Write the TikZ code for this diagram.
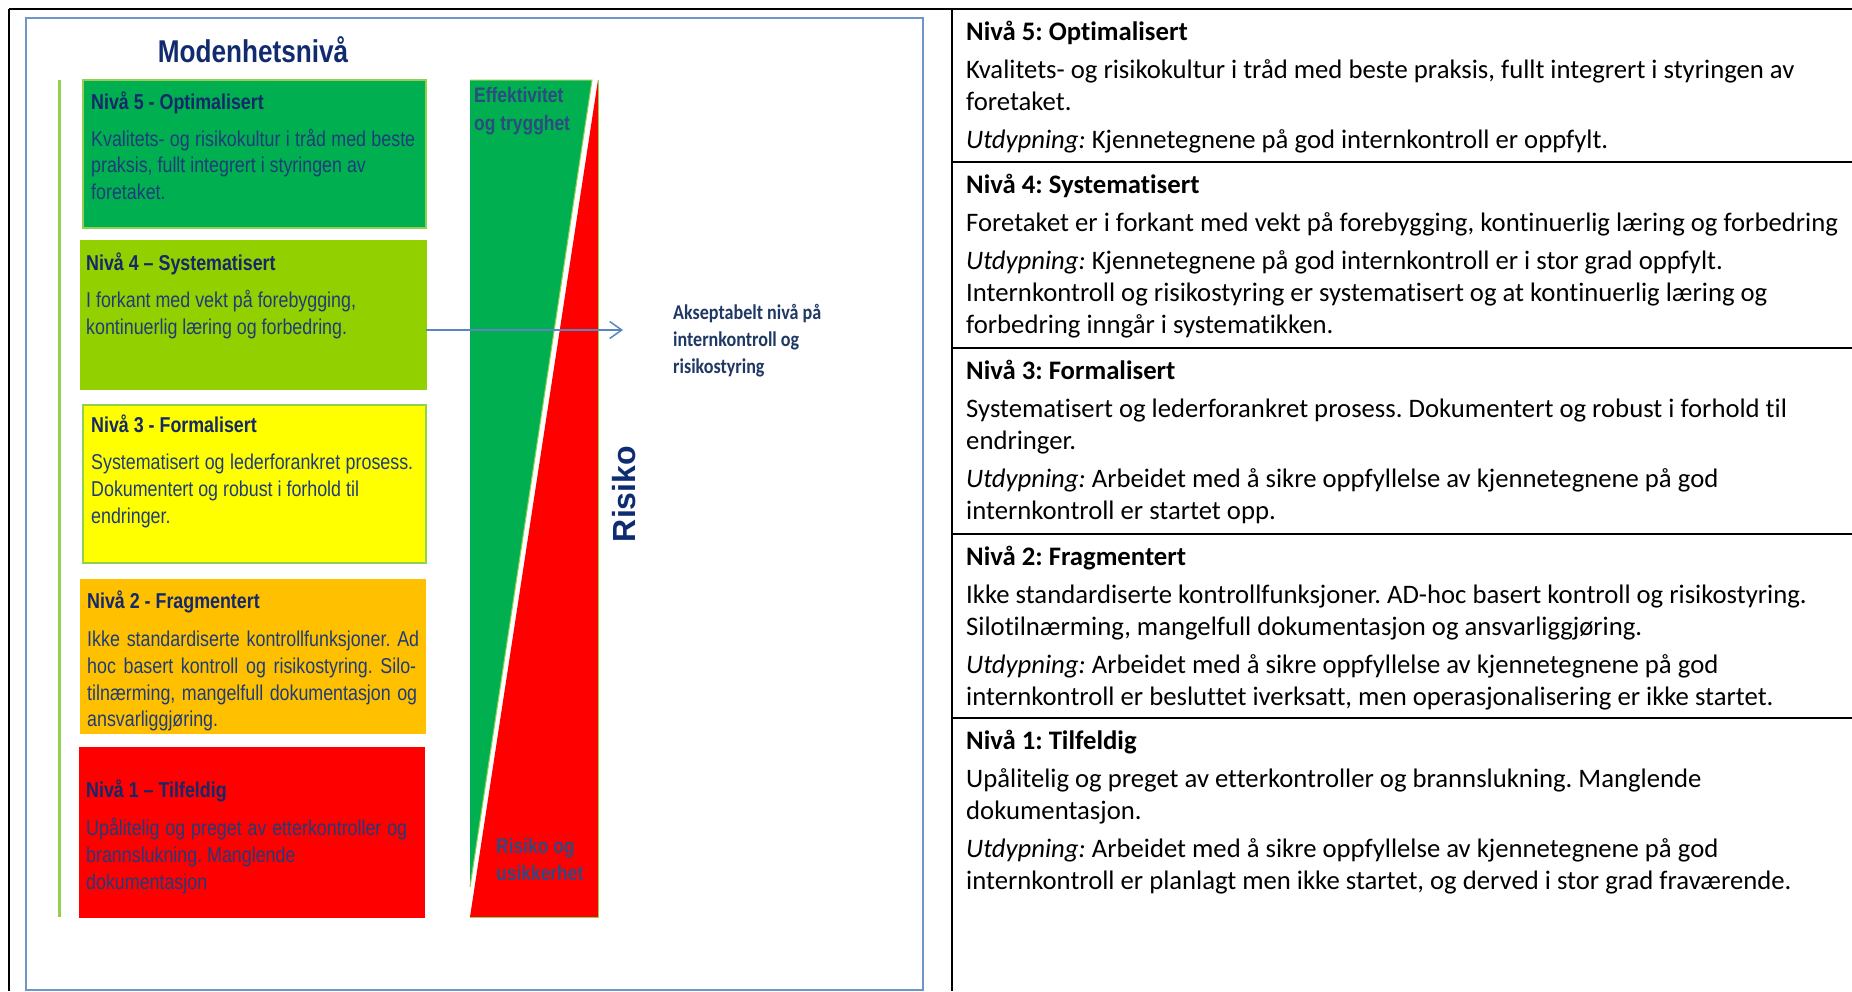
\documentclass[tikz,border=0pt]{standalone}
\usepackage{fontspec}
\setmainfont{Liberation Sans}
\newfontfamily\narrowfont[FakeStretch=0.83]{Liberation Sans}
\newfontfamily\calfont[Ligatures=NoCommon]{Carlito}
\newfontfamily\calnarrow[FakeStretch=0.86,Ligatures=NoCommon]{Carlito}
\usetikzlibrary{arrows.meta}
\frenchspacing

\definecolor{lvfive}{HTML}{00B050}
\definecolor{lvfour}{HTML}{92D000}
\definecolor{lvthree}{HTML}{FFFF00}
\definecolor{lvtwo}{HTML}{FFC000}
\definecolor{lvone}{HTML}{FF0000}
\definecolor{lgreen}{HTML}{92D050}
\definecolor{frameblue}{HTML}{7096C8}
\definecolor{arrowblue}{HTML}{5A86C0}
\definecolor{titlenavy}{HTML}{112B6E}
\definecolor{boxnavy}{HTML}{14286A}
\definecolor{bodynavy}{HTML}{1F3C7A}
\definecolor{barnavy}{HTML}{2D4B80}
\definecolor{risikonavy}{HTML}{0E2C72}
\definecolor{accnavy}{HTML}{1F3864}

% justified line of a given width (in pt)
\newcommand\jst[2]{\makebox[#1pt][s]{#2}}

\begin{document}
\begin{tikzpicture}[x=1pt, y=-1pt,
  lvlbox/.style={anchor=north west, inner sep=0pt, outer sep=0pt, line width=1.2pt},
  ltitle/.style={anchor=base west, inner sep=0pt, text=boxnavy, font=\narrowfont\bfseries\fontsize{21.5}{26}\selectfont},
  lbody/.style={anchor=base west, inner sep=0pt, text=bodynavy, font=\narrowfont\fontsize{21.5}{26}\selectfont},
  bartext/.style={anchor=base west, inner sep=0pt, text=barnavy, font=\narrowfont\bfseries\fontsize{21}{26}\selectfont},
  rtitle/.style={anchor=base west, inner sep=0pt, text=black, font=\calfont\bfseries\fontsize{26.7}{32}\selectfont},
  rbody/.style={anchor=base west, inner sep=0pt, text=black, font=\calfont\fontsize{26.7}{32}\selectfont},
  accnote/.style={anchor=base west, inner sep=0pt, text=accnavy, font=\calnarrow\bfseries\fontsize{21}{27}\selectfont},
  tblline/.style={line width=2.6pt, black},
]
\useasboundingbox (0,0) rectangle (1852,991);
\fill[white] (0,0) rectangle (1852,991);

% ---------- table frame ----------
\draw[tblline] (9,9) -- (1852,9);
\draw[tblline] (9,9) -- (9,991);
\draw[tblline] (952,9) -- (952,991);
\foreach \yy in {162,348,534,718} \draw[tblline] (952,\yy) -- (1852,\yy);

% ---------- left panel ----------
\draw[frameblue, line width=2pt] (26,18) rectangle (923,990);

\node[anchor=base, inner sep=0pt, text=titlenavy, font=\narrowfont\bfseries\fontsize{31.5}{36}\selectfont] (title) at (253,62) {Modenhetsnivå};

\draw[lgreen, line width=3pt] (59,80) -- (59,917);

% maturity level boxes
\node[lvlbox, fill=lvfive, draw=lgreen, minimum width=343pt, minimum height=148pt] (b5) at (83,80) {};
\node[lvlbox, fill=lvfour, draw=lvfour, minimum width=345pt, minimum height=148pt] (b4) at (81,241) {};
\node[lvlbox, fill=lvthree, draw=lgreen, minimum width=343pt, minimum height=158pt] (b3) at (83,405) {};
\node[lvlbox, fill=lvtwo, draw=lvtwo, minimum width=344pt, minimum height=153pt] (b2) at (81,580) {};
\node[lvlbox, fill=lvone, draw=lvone, minimum width=344pt, minimum height=169pt] (b1) at (80,748) {};

\node[ltitle] (b5t) at (91,109) {Nivå 5 - Optimalisert};
\node[lbody] (b5a) at (91,146) {\jst{324}{Kvalitets-  og risikokultur i tråd med beste}};
\node[lbody] (b5b) at (91,172) {praksis, fullt  integrert i styringen av};
\node[lbody] (b5c) at (91,199) {foretaket.};

\node[ltitle] (b4t) at (86,270) {Nivå 4 – Systematisert};
\node[lbody] (b4a) at (86,307) {I forkant med vekt på forebygging,};
\node[lbody] (b4b) at (86,334) {kontinuerlig  læring og forbedring.};

\node[ltitle] (b3t) at (91,432) {Nivå 3 - Formalisert};
\node[lbody] (b3a) at (91,469) {\jst{322}{Systematisert  og lederforankret  prosess.}};
\node[lbody] (b3b) at (91,496) {Dokumentert  og robust i forhold til};
\node[lbody] (b3c) at (91,523) {endringer.};

\node[ltitle] (b2t) at (87,608) {Nivå 2 - Fragmentert};
\node[lbody] (b2a) at (87,646) {\jst{332}{Ikke standardiserte  kontrollfunksjoner.  Ad}};
\node[lbody] (b2b) at (87,673) {\jst{329}{hoc basert kontroll og risikostyring. Silo-}};
\node[lbody] (b2c) at (87,700) {\jst{330}{tilnærming, mangelfull  dokumentasjon  og}};
\node[lbody] (b2d) at (87,726) {ansvarliggjøring.};

\node[ltitle] (b1t) at (86,797) {Nivå 1 – Tilfeldig};
\node[lbody] (b1a) at (86,835) {\jst{321}{Upålitelig  og preget av etterkontroller  og}};
\node[lbody] (b1b) at (86,862) {brannslukning.  Manglende};
\node[lbody] (b1c) at (86,889) {dokumentasjon};

% effectiveness / risk bar
\fill[lvone] (598,80) -- (598,917) -- (470,917) -- cycle;
\draw[lgreen, line width=1pt] (598,80) -- (598,917) -- (470,917);
\fill[lvfive] (470,80) -- (592,80) -- (470,887) -- cycle;
\draw[lgreen, line width=1pt] (470,80) -- (592,80) -- (470,887);

\node[bartext] (eff1) at (474,102) {Effektivitet};
\node[bartext] (eff2) at (474,130) {og trygghet};
\node[bartext] (usi1) at (496,853) {Risiko og};
\node[bartext] (usi2) at (496,880) {usikkerhet};

\node[rotate=90, inner sep=0pt, text=risikonavy, font=\bfseries\fontsize{32}{32}\selectfont] (risiko) at (624,494) {Risiko};

% acceptable level marker
\coordinate (acc) at (623,330);
\draw[arrowblue, line width=1.5pt, -{Straight Barb[length=12pt, width=17pt, line width=1.5pt]}] ([yshift=-15pt]b4.east) -- (acc);

\node[accnote] (acc1) at (673,319) {Akseptabelt nivå på};
\node[accnote] (acc2) at (673,346) {internkontroll og};
\node[accnote] (acc3) at (673,373) {risikostyring};

% ---------- right panel ----------
\node[rtitle] (r5t) at (966,40) {Nivå 5: Optimalisert};
\node[rbody] (r5a) at (966,78) {Kvalitets- og risikokultur i tråd med beste praksis, fullt integrert i styringen av};
\node[rbody] (r5b) at (966,110) {foretaket.};
\node[rbody] (r5c) at (966,148) {\textit{Utdypning:} Kjennetegnene på god internkontroll er oppfylt.};

\node[rtitle] (r4t) at (966,193) {Nivå 4: Systematisert};
\node[rbody] (r4a) at (966,231) {Foretaket er i forkant med vekt på forebygging, kontinuerlig læring og forbedring};
\node[rbody] (r4b) at (966,269) {\textit{Utdypning:} Kjennetegnene på god internkontroll er i stor grad oppfylt.};
\node[rbody] (r4c) at (966,301) {Internkontroll og risikostyring er systematisert og at kontinuerlig læring og};
\node[rbody] (r4d) at (966,333) {forbedring inngår i systematikken.};

\node[rtitle] (r3t) at (966,379) {Nivå 3: Formalisert};
\node[rbody] (r3a) at (966,417) {Systematisert og lederforankret prosess. Dokumentert og robust i forhold til};
\node[rbody] (r3b) at (966,449) {endringer.};
\node[rbody] (r3c) at (966,487) {\textit{Utdypning:} Arbeidet med å sikre oppfyllelse av kjennetegnene på god};
\node[rbody] (r3d) at (966,519) {internkontroll er startet opp.};

\node[rtitle] (r2t) at (966,565) {Nivå 2: Fragmentert};
\node[rbody] (r2a) at (966,603) {Ikke standardiserte kontrollfunksjoner. AD-hoc basert kontroll og risikostyring.};
\node[rbody] (r2b) at (966,635) {Silotilnærming, mangelfull dokumentasjon og ansvarliggjøring.};
\node[rbody] (r2c) at (966,673) {\textit{Utdypning:} Arbeidet med å sikre oppfyllelse av kjennetegnene på god};
\node[rbody] (r2d) at (966,705) {internkontroll er besluttet iverksatt, men operasjonalisering er ikke startet.};

\node[rtitle] (r1t) at (966,749) {Nivå 1: Tilfeldig};
\node[rbody] (r1a) at (966,787) {Upålitelig og preget av etterkontroller og brannslukning. Manglende};
\node[rbody] (r1b) at (966,819) {dokumentasjon.};
\node[rbody] (r1c) at (966,857) {\textit{Utdypning:} Arbeidet med å sikre oppfyllelse av kjennetegnene på god};
\node[rbody] (r1d) at (966,889) {internkontroll er planlagt men ikke startet, og derved i stor grad fraværende.};
\end{tikzpicture}
\end{document}
